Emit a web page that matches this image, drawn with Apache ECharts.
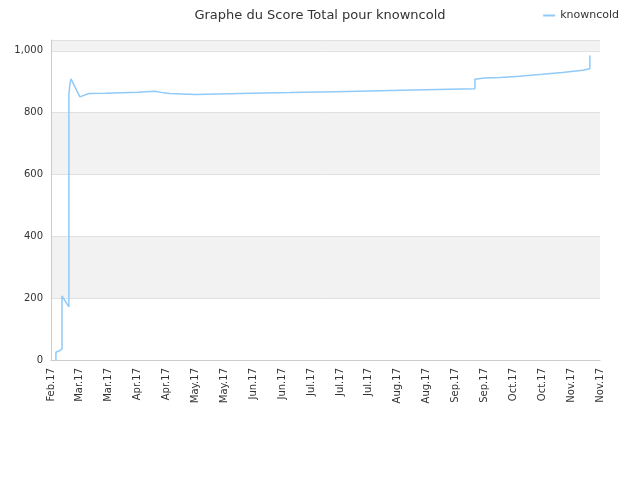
<!DOCTYPE html>
<html><head><meta charset="utf-8">
<script src="https://cdn.jsdelivr.net/npm/echarts@6/dist/echarts.min.js"></script>
<style>html,body{margin:0;padding:0;background:#fff}#c{width:640px;height:480px}</style>
</head><body><div id="c"></div>
<script>
const tickLabels = ["Feb.17","Mar.17","Mar.17","Apr.17","Apr.17","May.17","May.17","Jun.17","Jun.17","Jul.17","Jul.17","Jul.17","Aug.17","Aug.17","Sep.17","Sep.17","Oct.17","Oct.17","Nov.17","Nov.17"];
const xPos = [0.17,0.17,0.3,0.38,0.38,0.62,0.62,0.65,0.69,1.0,1.31,1.87,1.87,3.0,3.0,3.6,3.9,4.12,4.12,4.98,4.98,6.54,6.54,8.27,8.27,9.83,9.83,11.38,11.38,12.94,12.94,14.67,14.67,15.0,15.54,16.2,17.0,17.7,18.4,18.65,18.65,18.65];
const scores = [0,25,30,35,207,172,860,890,909,851,862,863,866,866,869,869,864,862,859,859,862,862,865,865,868,868,871,871,874,874,877,877,908,912,914,918,924,930,937,942,945,985];
const chart = echarts.init(document.getElementById('c'));
chart.setOption({
  animation:false,
  title:{text:'Graphe du Score Total pour knowncold',left:'center',top:4,textStyle:{fontSize:13,fontWeight:'normal',color:'#333',fontFamily:'DejaVu Sans'}},
  legend:{right:16,top:5,itemWidth:12,itemHeight:2,icon:'rect',textStyle:{fontSize:11,color:'#333',fontFamily:'DejaVu Sans'},data:['knowncold']},
  grid:{left:51,right:40,top:40,bottom:120},
  xAxis:{type:'value',min:0,max:19,interval:1,
    axisLine:{lineStyle:{color:'#ccc'}},axisTick:{show:false},splitLine:{show:false},
    axisLabel:{rotate:90,fontSize:10,color:'#333',fontFamily:'DejaVu Sans',formatter:v=>tickLabels[Math.round(v)]||''}},
  yAxis:{type:'value',min:0,max:1035,interval:200,
    axisLine:{show:true,lineStyle:{color:'#ccc'}},axisTick:{show:false},
    splitLine:{lineStyle:{color:'#e0e0e0'}},
    splitArea:{show:true,areaStyle:{color:['#ffffff','#f2f2f2']}},
    axisLabel:{fontSize:10,color:'#333',fontFamily:'DejaVu Sans',showMaxLabel:false}},
  series:[{name:'knowncold',type:'line',showSymbol:false,symbol:'none',
    lineStyle:{color:'#90caf9',width:1.5},itemStyle:{color:'#90caf9'},
    data:xPos.map((x,i)=>[x,scores[i]])}]
});
</script></body></html>
